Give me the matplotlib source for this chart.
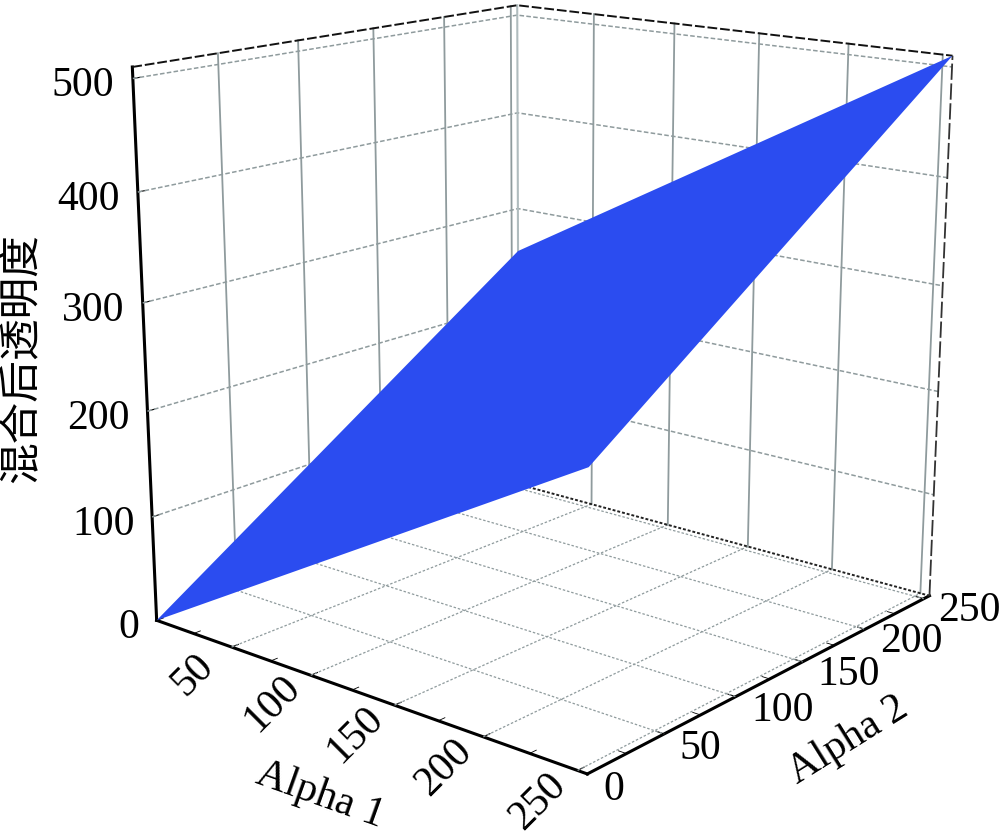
import numpy as np
import matplotlib
matplotlib.use('Agg')
import matplotlib.pyplot as plt
from matplotlib.transforms import Affine2D

alpha1_ticks = [0, 50, 100, 150, 200, 250]
alpha2_ticks = [0, 50, 100, 150, 200, 250]
alpha_minor = [25, 75, 125, 175, 225]
blend_ticks = [0, 100, 200, 300, 400, 500]
alpha_grid = [0, 255]
blend = [[0, 255], [255, 510]]
AMAX = 255
ZMAX = 510

plt.rcParams['font.family'] = ['Liberation Serif', 'DejaVu Serif']
W_PX, H_PX = 1000, 833
S, L, BOTTOM = 950.5, 59.9, 830.8
fig = plt.figure(figsize=(W_PX/100, H_PX/100), dpi=100)
ax = fig.add_axes([L/W_PX, 1-BOTTOM/H_PX, S/W_PX, S/H_PX], projection='3d')
ax.set_xlim(0, AMAX); ax.set_ylim(0, AMAX); ax.set_zlim(0, ZMAX)
ax.view_init(elev=15.391, azim=-49.96)
ax.set_proj_type('persp', focal_length=0.492)
ax.set_box_aspect((1, 1, 1.003))
ax.computed_zorder = False

ax.grid(False)
for a in (ax.xaxis, ax.yaxis, ax.zaxis):
    a.set_pane_color((1, 1, 1, 0))
    a.pane.set_edgecolor((1, 1, 1, 0))
    a.line.set_linewidth(2.2)
    a.line.set_color('black')
    a._axinfo['tick']['inward_factor'] = 0
    a._axinfo['tick']['outward_factor'] = 0.2

GRID = '#8f9b9d'
for v in alpha1_ticks[1:]:
    ax.plot([v, v], [0, AMAX], [0, 0], color=GRID, lw=0.9, ls=(0, (2, 1.5)), zorder=1)
    ax.plot([v, v], [AMAX, AMAX], [0, ZMAX], color=GRID, lw=1.3, zorder=1)
for v in alpha2_ticks[1:]:
    ax.plot([0, AMAX], [v, v], [0, 0], color=GRID, lw=0.9, ls=(0, (2, 1.5)), zorder=1)
    ax.plot([0, 0], [v, v], [0, ZMAX], color=GRID, lw=1.3, zorder=1)
for z in blend_ticks[1:]:
    ax.plot([0, 0, AMAX], [0, AMAX, AMAX], [z, z, z], color=GRID, lw=1.1, ls=(0, (3, 1.5)), zorder=1)
ax.plot([0, 0], [AMAX, AMAX], [0, ZMAX], color='#b0bcbe', lw=1.5, zorder=1)
ax.plot([0, 0, AMAX], [0, AMAX, AMAX], [ZMAX, ZMAX, ZMAX], color='#111111', lw=1.4, ls=(0, (5, 1.5)), zorder=1)
ax.plot([0, AMAX], [AMAX, AMAX], [0, 0], color='#222222', lw=1.4, ls=(0, (1.5, 1)), zorder=1)
ax.plot([AMAX, AMAX], [AMAX, AMAX], [0, ZMAX], color='#333333', lw=1.3, ls=(0, (9, 2)), zorder=1)

X, Y = np.meshgrid(alpha_grid, alpha_grid)
ax.plot_surface(X, Y, np.array(blend), color='#2b4cf0', shade=False, linewidth=0, antialiased=True, zorder=5)

ax.set_xticks(alpha1_ticks[1:]); ax.set_yticks(alpha2_ticks); ax.set_zticks(blend_ticks)
ax.set_xticks(alpha_minor, minor=True); ax.set_yticks(alpha_minor, minor=True)
ax.zaxis.set_ticks_position('lower')
ax.tick_params(axis='both', labelsize=30)
ax.tick_params(axis='x', labelrotation=45, pad=6)
ax.tick_params(axis='y', pad=2)
ax.tick_params(axis='z', pad=2)


def shift_text(text, dx, dy):
    """Axis3D resets a label's transform at draw time, so add the pixel offset just before drawing."""
    orig = text.draw
    def draw(renderer):
        text._transform = ax.transData + Affine2D().translate(dx, dy)
        orig(renderer)
    text.draw = draw


for t in ax.xaxis.get_major_ticks():
    t.label1.set_va('center'); t.label1.set_ha('center')
    shift_text(t.label1, -23, 0)
for t in ax.yaxis.get_major_ticks():
    t.label1.set_va('center'); t.label1.set_ha('left')
    shift_text(t.label1, 2, 6)
for t in ax.zaxis.get_major_ticks():
    t.label1.set_va('center'); t.label1.set_ha('right')
    shift_text(t.label1, 5, -7)
ax.set_xlabel('Alpha 1', fontsize=30, labelpad=26)
ax.yaxis.set_rotate_label(False)
ax.set_ylabel('Alpha 2', fontsize=30, labelpad=26, rotation=32)
shift_text(ax.xaxis.label, 18, -5)
shift_text(ax.yaxis.label, 13, 30)
fig.text(0.022, 0.57, '混合后透明度', rotation=90, fontsize=30, family=['Noto Sans CJK SC'], va='center', ha='center')
fig.savefig('out.png', dpi=100)
